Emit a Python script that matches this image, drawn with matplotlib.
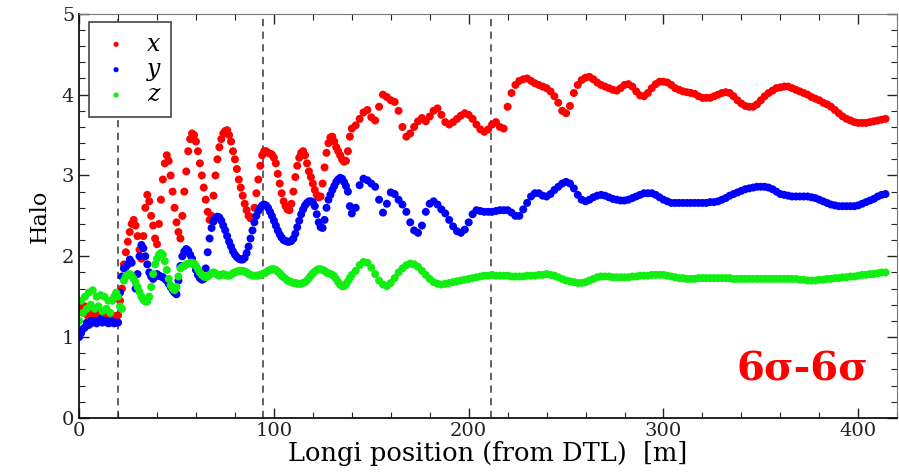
import numpy as np
import matplotlib
matplotlib.use('Agg')
import matplotlib.pyplot as plt
from matplotlib.ticker import MultipleLocator

# positions along the linac [m]: 1 m steps up to 140, 2 m steps after
pos_fine = np.arange(0, 141)
pos_coarse = np.arange(142, 415, 2)

halo_x_fine = [
    1.42, 1.35, 1.30, 1.38, 1.28, 1.25, 1.30, 1.27, 1.25, 1.28,
    1.30, 1.26, 1.25, 1.28, 1.27, 1.25, 1.26, 1.27, 1.25, 1.26,
    1.27, 1.45, 1.60, 1.90, 2.05, 2.18, 2.30, 2.40, 2.45, 2.38,
    2.25, 2.08, 1.97, 2.25, 2.60, 2.76, 2.68, 2.50, 2.38, 2.22,
    2.15, 2.40, 2.70, 2.95, 3.15, 3.25, 3.18, 3.00, 2.80, 2.60,
    2.42, 2.30, 2.22, 2.50, 2.80, 3.05, 3.30, 3.45, 3.52, 3.50,
    3.42, 3.30, 3.15, 3.00, 2.85, 2.70, 2.55, 2.45, 2.50, 2.75,
    3.00, 3.20, 3.35, 3.45, 3.52, 3.55, 3.56, 3.50, 3.42, 3.30,
    3.20, 3.08, 2.95, 2.85, 2.75, 2.65, 2.57, 2.50, 2.47, 2.48,
    2.60, 2.78, 2.95, 3.12, 3.25, 3.30, 3.30, 3.28, 3.27, 3.26,
    3.22, 3.15, 3.02, 2.90, 2.78, 2.68, 2.62, 2.58, 2.57, 2.65,
    2.80, 2.98, 3.12, 3.22, 3.28, 3.30, 3.25, 3.15, 3.05, 2.98,
    2.90, 2.82, 2.76, 2.73, 2.74, 2.90, 3.10, 3.28, 3.40, 3.47,
    3.48, 3.42, 3.35, 3.30, 3.25, 3.20, 3.17, 3.18, 3.30, 3.48,
    3.58]
halo_x_coarse = [
    3.62, 3.70, 3.78, 3.81, 3.72, 3.68, 3.85, 4.00, 3.97, 3.93,
    3.91, 3.80, 3.60, 3.48, 3.52, 3.60, 3.67, 3.71, 3.67, 3.73,
    3.80, 3.83, 3.75, 3.66, 3.63, 3.66, 3.70, 3.74, 3.77, 3.75,
    3.70, 3.63, 3.57, 3.54, 3.57, 3.63, 3.66, 3.60, 3.58, 3.85,
    4.02, 4.12, 4.17, 4.19, 4.20, 4.17, 4.14, 4.12, 4.10, 4.08,
    4.04, 3.98, 3.90, 3.80, 3.77, 3.86, 4.02, 4.12, 4.18, 4.21,
    4.22, 4.19, 4.15, 4.12, 4.10, 4.08, 4.06, 4.05, 4.08, 4.12,
    4.13, 4.10, 4.04, 3.99, 3.98, 4.02, 4.08, 4.13, 4.16, 4.16,
    4.15, 4.12, 4.08, 4.06, 4.04, 4.03, 4.02, 4.01, 3.98, 3.96,
    3.96, 3.96, 3.98, 4.00, 4.02, 4.03, 4.02, 3.98, 3.93, 3.89,
    3.86, 3.85, 3.85, 3.88, 3.93, 3.98, 4.02, 4.05, 4.08, 4.09,
    4.10, 4.10, 4.08, 4.06, 4.04, 4.02, 4.00, 3.97, 3.95, 3.93,
    3.90, 3.88, 3.85, 3.81, 3.77, 3.73, 3.70, 3.68, 3.66, 3.65,
    3.65, 3.65, 3.66, 3.67, 3.68, 3.69, 3.70]

halo_y_fine = [
    1.00, 1.05, 1.10, 1.12, 1.18, 1.15, 1.20, 1.18, 1.20, 1.17,
    1.20, 1.22, 1.18, 1.20, 1.20, 1.17, 1.18, 1.19, 1.17, 1.18,
    1.18, 1.55, 1.75, 1.85, 1.87, 1.90, 1.96, 1.92, 1.75, 1.60,
    1.78, 2.00, 2.14, 2.10, 2.00, 1.90, 1.80, 1.75, 1.72, 1.75,
    1.78, 1.76, 1.75, 1.74, 1.72, 1.70, 1.66, 1.62, 1.58, 1.55,
    1.53, 1.70, 1.88, 2.00, 2.06, 2.09, 2.07, 2.02, 1.97, 1.90,
    1.83, 1.77, 1.73, 1.71, 1.72, 1.85, 2.05, 2.22, 2.35, 2.43,
    2.47, 2.49, 2.48, 2.44, 2.38, 2.32, 2.25, 2.18, 2.12, 2.06,
    2.02, 1.99, 1.97, 1.96, 1.96, 1.98, 2.04, 2.12, 2.22, 2.32,
    2.42, 2.50, 2.56, 2.60, 2.63, 2.64, 2.63, 2.60, 2.55, 2.50,
    2.44, 2.38, 2.32, 2.27, 2.23, 2.20, 2.19, 2.18, 2.18, 2.19,
    2.22, 2.28, 2.36, 2.44, 2.52, 2.58, 2.63, 2.66, 2.68, 2.68,
    2.67, 2.62, 2.52, 2.42, 2.36, 2.35, 2.45, 2.60, 2.70, 2.76,
    2.82, 2.87, 2.92, 2.95, 2.97, 2.96, 2.92, 2.87, 2.80, 2.62,
    2.53]
halo_y_coarse = [
    2.60, 2.88, 2.96, 2.94, 2.90, 2.86, 2.70, 2.54, 2.65, 2.79,
    2.77, 2.70, 2.64, 2.55, 2.42, 2.32, 2.29, 2.38, 2.55, 2.65,
    2.68, 2.64, 2.58, 2.53, 2.45, 2.37, 2.31, 2.29, 2.33, 2.42,
    2.52, 2.57, 2.56, 2.55, 2.55, 2.55, 2.56, 2.57, 2.57, 2.57,
    2.54, 2.50, 2.50, 2.58, 2.66, 2.74, 2.78, 2.78, 2.75, 2.74,
    2.77, 2.82, 2.86, 2.90, 2.92, 2.90, 2.84, 2.76, 2.70, 2.68,
    2.70, 2.73, 2.75, 2.76, 2.75, 2.73, 2.71, 2.70, 2.69, 2.69,
    2.70, 2.72, 2.74, 2.76, 2.78, 2.78, 2.78, 2.76, 2.73, 2.70,
    2.68, 2.66, 2.66, 2.66, 2.66, 2.66, 2.66, 2.66, 2.66, 2.66,
    2.66, 2.67, 2.67, 2.68, 2.70, 2.72, 2.75, 2.77, 2.79, 2.81,
    2.83, 2.84, 2.85, 2.86, 2.86, 2.86, 2.85, 2.83, 2.80, 2.77,
    2.76, 2.75, 2.74, 2.74, 2.74, 2.74, 2.74, 2.73, 2.72, 2.70,
    2.68, 2.66, 2.64, 2.63, 2.62, 2.62, 2.62, 2.62, 2.62, 2.63,
    2.65, 2.67, 2.69, 2.71, 2.74, 2.76, 2.77]

halo_z_fine = [
    1.20, 1.45, 1.30, 1.50, 1.35, 1.55, 1.40, 1.58, 1.35, 1.50,
    1.38, 1.52, 1.32, 1.50, 1.35, 1.45, 1.30, 1.45, 1.50, 1.55,
    1.50, 1.38, 1.35, 1.70, 1.75, 1.77, 1.78, 1.76, 1.72, 1.68,
    1.62, 1.56, 1.50, 1.46, 1.44, 1.44, 1.50, 1.62, 1.78, 1.90,
    1.97, 2.02, 2.04, 2.02, 1.94, 1.83, 1.72, 1.64, 1.60, 1.58,
    1.62, 1.75, 1.85, 1.87, 1.88, 1.90, 1.91, 1.92, 1.92, 1.91,
    1.88, 1.84, 1.80, 1.77, 1.75, 1.74, 1.75, 1.77, 1.79, 1.80,
    1.79, 1.77, 1.76, 1.77, 1.78, 1.77, 1.76, 1.76, 1.77, 1.79,
    1.80, 1.81, 1.82, 1.82, 1.82, 1.81, 1.80, 1.78, 1.77, 1.76,
    1.76, 1.76, 1.76, 1.77, 1.78, 1.79, 1.80, 1.82, 1.83, 1.84,
    1.84, 1.83, 1.81, 1.79, 1.76, 1.74, 1.72, 1.70, 1.69, 1.68,
    1.67, 1.67, 1.66, 1.66, 1.66, 1.67, 1.68, 1.70, 1.73, 1.76,
    1.79, 1.81, 1.83, 1.84, 1.84, 1.83, 1.82, 1.80, 1.79, 1.78,
    1.77, 1.75, 1.72, 1.68, 1.65, 1.63, 1.63, 1.65, 1.69, 1.73,
    1.77]
halo_z_coarse = [
    1.82, 1.89, 1.93, 1.92, 1.86, 1.78, 1.70, 1.65, 1.63, 1.67,
    1.73, 1.80, 1.85, 1.89, 1.91, 1.90, 1.87, 1.82, 1.77, 1.72,
    1.68, 1.66, 1.65, 1.66, 1.67, 1.68, 1.69, 1.70, 1.71, 1.72,
    1.73, 1.74, 1.75, 1.76, 1.76, 1.77, 1.76, 1.76, 1.76, 1.76,
    1.75, 1.75, 1.75, 1.75, 1.76, 1.76, 1.76, 1.77, 1.77, 1.78,
    1.77, 1.76, 1.74, 1.72, 1.70, 1.69, 1.68, 1.67, 1.67, 1.68,
    1.70, 1.72, 1.74, 1.75, 1.75, 1.75, 1.74, 1.74, 1.74, 1.74,
    1.74, 1.75, 1.75, 1.76, 1.76, 1.76, 1.77, 1.77, 1.77, 1.77,
    1.76, 1.75, 1.74, 1.73, 1.73, 1.72, 1.72, 1.72, 1.73, 1.73,
    1.73, 1.73, 1.73, 1.73, 1.73, 1.73, 1.73, 1.72, 1.72, 1.72,
    1.72, 1.72, 1.72, 1.72, 1.72, 1.72, 1.72, 1.72, 1.72, 1.72,
    1.72, 1.72, 1.72, 1.72, 1.71, 1.71, 1.70, 1.70, 1.70, 1.71,
    1.71, 1.72, 1.72, 1.73, 1.73, 1.74, 1.74, 1.75, 1.75, 1.76,
    1.77, 1.77, 1.78, 1.78, 1.79, 1.80, 1.80]

labels = ['x', 'y', 'z']
colors = ['#ff0000', '#0000ff', '#11ee11']
section_edges = [20, 94.5, 211.5]   # dashed markers [m]

plt.rcParams['font.family'] = ['DejaVu Serif']

pos = np.concatenate([pos_fine, pos_coarse])
series = [halo_x_fine + halo_x_coarse,
          halo_y_fine + halo_y_coarse,
          halo_z_fine + halo_z_coarse]

fig = plt.figure(figsize=(8.99, 4.76), dpi=100)
ax = fig.add_axes([0.088, 0.122, 0.910, 0.849])

for s in section_edges:
    ax.axvline(s, color='#555555', ls=(0, (4, 3)), lw=1.3, zorder=1)

for name, col, vals in zip(labels, colors, series):
    ax.scatter(pos, vals, s=33, color=col, edgecolors='none', zorder=2,
               label=name)

ax.set_xlim(0, 420)
ax.set_ylim(0, 5)
ax.xaxis.set_major_locator(MultipleLocator(100))
ax.xaxis.set_minor_locator(MultipleLocator(20))
ax.yaxis.set_major_locator(MultipleLocator(1))
ax.yaxis.set_minor_locator(MultipleLocator(0.2))
ax.tick_params(which='both', direction='in', top=True, right=True,
               labelsize=14, colors='#222222')
ax.tick_params(which='major', length=7, width=1)
ax.tick_params(which='minor', length=4, width=0.8)
ax.tick_params(axis='x', pad=3)
for side in ['top', 'right']:
    ax.spines[side].set_color('#777777')
for side in ['left', 'bottom']:
    ax.spines[side].set_color('#111111')
    ax.spines[side].set_linewidth(1.3)

ax.set_xlabel('Longi position (from DTL)  [m]', fontsize=18.5, labelpad=1)
ax.set_ylabel('Halo', fontsize=16, labelpad=8)

ax.text(0.884, 0.119, '6σ-6σ', transform=ax.transAxes, color='#ff0000',
        fontsize=29, fontweight='bold', ha='center', va='center')

leg = ax.legend(loc='upper left', bbox_to_anchor=(0.012, 0.98),
                borderaxespad=0, fancybox=False, edgecolor='#444444',
                framealpha=1, prop={'style': 'italic', 'size': 17},
                markerscale=0.65, handletextpad=0.6, labelspacing=0.1,
                borderpad=0.45, handlelength=1.4)
leg.get_frame().set_linewidth(1.2)

fig.savefig('out.png', dpi=100)
